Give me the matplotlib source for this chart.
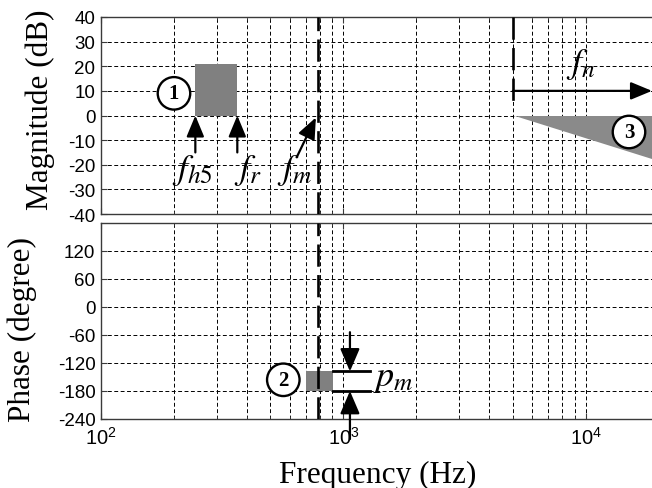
import numpy as np
import matplotlib
matplotlib.use("Agg")
import matplotlib.pyplot as plt
from matplotlib.patches import Rectangle, Polygon

plt.rcParams['font.family'] = ['Liberation Sans', 'DejaVu Sans']
plt.rcParams['lines.scale_dashes'] = False
plt.rcParams['axes.unicode_minus'] = False

# ---------------- data ----------------
x_limits = [100, 18750]
mag_ticks = [-40, -30, -20, -10, 0, 10, 20, 30, 40]
mag_limits = [-40, 40]
phase_ticks = [-240, -180, -120, -60, 0, 60, 120]
phase_limits = [-240, 180]
x_major_ticks = [1e2, 1e3, 1e4]
x_tick_labels = [r'$\mathregular{10^{2}}$', r'$\mathregular{10^{3}}$', r'$\mathregular{10^{4}}$']

f_m = 785        # dashed line through both plots
f_n = 5000       # dashed line in magnitude plot
f_n_line_range = [40, 4]
f_n_arrow_level = 10
f_n_label_pos = (8300, 17.5)

region1_f = [245, 365]       # f_h5 .. f_r
region1_mag = [0, 21]
region2_f = [700, 905]
region2_phase = [-180, -138]
region3_f = [5100, 18750]
region3_mag_end = -17.7

pm_levels = [-138, -180]
pm_line_f = [905, 1290]
pm_arrow_f = 1064

labels_f = [196, 355, 530]
labels_txt = [r'$f_{h5}$', r'$f_{r}$', r'$f_{m}$']
labels_mag = -25.5
arrows_mag_tail = [(245, -15), (365, -15), (645, -16.5)]
arrows_mag_head = [(245, 0), (365, 0), (770, -0.8)]

circle1 = (200, 9)
circle2 = (565, -156)
circle3 = (15070, -6.7)

# ---------------- figure ----------------
fig = plt.figure(figsize=(6.52, 4.89), dpi=100)
W, H = 652, 489
ax1 = fig.add_axes([101 / W, 1 - 215 / H, (W - 101) / W, (215 - 18) / H])
ax2 = fig.add_axes([101 / W, 1 - 420 / H, (W - 101) / W, (420 - 224) / H])

grid_style = dict(color='black', linewidth=0.7, linestyle=(0, (2.8, 1.8)))
for ax in (ax1, ax2):
    ax.set_xscale('log')
    ax.set_xlim(*x_limits)
    ax.grid(True, which='both', axis='x', **grid_style)
    ax.grid(True, which='major', axis='y', **grid_style)
    ax.set_axisbelow(True)
    for s in ('left', 'bottom', 'top'):
        ax.spines[s].set_color('#3a3a3a')
        ax.spines[s].set_linewidth(1.0)
    ax.spines['right'].set_visible(False)
    ax.tick_params(which='both', direction='in', top=True, right=False,
                   color='#3a3a3a')
    ax.tick_params(which='major', length=4)
    ax.tick_params(which='minor', length=2)
    ax.tick_params(axis='y', labelsize=13.5, pad=4)
    ax.tick_params(axis='x', labelsize=14.5, pad=5)

ax1.set_ylim(*mag_limits)
ax1.set_yticks(mag_ticks)
ax1.set_xticks(x_major_ticks)
ax1.set_xticklabels([])
ax1.tick_params(axis='x', which='minor', labelbottom=False)

ax2.set_ylim(*phase_limits)
ax2.set_yticks(phase_ticks)
ax2.set_xticks(x_major_ticks)
ax2.set_xticklabels(x_tick_labels)
ax2.tick_params(axis='x', which='minor', labelbottom=False)

gray = '#808080'
# region 1
ax1.add_patch(Rectangle((region1_f[0], region1_mag[0]), region1_f[1] - region1_f[0],
                        region1_mag[1] - region1_mag[0], facecolor=gray, edgecolor='none', zorder=2))
# region 3 triangle
ax1.add_patch(Polygon([(region3_f[0], 0), (region3_f[1], 0), (region3_f[1], region3_mag_end)],
                      closed=True, facecolor='#8a8a8a', edgecolor='none', zorder=2, clip_on=False))
# region 2
ax2.add_patch(Rectangle((region2_f[0], region2_phase[0]), region2_f[1] - region2_f[0],
                        region2_phase[1] - region2_phase[0], facecolor=gray, edgecolor='none', zorder=2))

thick_dash = dict(color='black', linewidth=1.9, linestyle=(0, (16, 6)), zorder=4)
ax1.plot([f_m, f_m], mag_limits, **thick_dash)
ax2.plot([f_m, f_m], phase_limits, **thick_dash)
ax1.plot([f_n, f_n], f_n_line_range, **thick_dash)

arrow_kw = dict(arrowstyle='-|>,head_length=0.65,head_width=0.27', color='black',
                lw=1.6, shrinkA=0, shrinkB=0, mutation_scale=20)
for tail, head in zip(arrows_mag_tail, arrows_mag_head):
    ax1.annotate('', xy=head, xytext=tail, arrowprops=arrow_kw, zorder=5)
ax1.annotate('', xy=(x_limits[1], f_n_arrow_level), xytext=(f_n, f_n_arrow_level),
             arrowprops=arrow_kw, zorder=5, annotation_clip=False)

math_kw = dict(fontsize=26, math_fontfamily='stix', ha='left', va='baseline', zorder=6)
for xf, t in zip(labels_f, labels_txt):
    ax1.text(xf, labels_mag, t, **math_kw)
ax1.text(f_n_label_pos[0], f_n_label_pos[1], r'$f_{n}$', **math_kw)

circ_kw = dict(fontsize=15, fontweight='bold', family='Liberation Serif', ha='center',
               va='center', zorder=7,
               bbox=dict(boxstyle='circle,pad=0.3', fc='white', ec='black', lw=1.7))
ax1.text(circle1[0], circle1[1], '1', **circ_kw)
ax1.text(circle3[0], circle3[1], '3', **circ_kw)
ax2.text(circle2[0], circle2[1], '2', **circ_kw)

# phase margin markers
for lv in pm_levels:
    ax2.plot(pm_line_f, [lv, lv], color='black', linewidth=2.0, zorder=5)
pm_arrow = dict(arrowstyle='-|>,head_length=0.7,head_width=0.3', color='black',
                lw=1.6, shrinkA=0, shrinkB=0, mutation_scale=20)
ax2.annotate('', xy=(pm_arrow_f, pm_levels[0]), xytext=(pm_arrow_f, -54),
             arrowprops=pm_arrow, zorder=5)
ax2.annotate('', xy=(pm_arrow_f, pm_levels[1]), xytext=(pm_arrow_f, -283),
             arrowprops=pm_arrow, zorder=5, annotation_clip=False)
ax2.text(1320, -168, r'$p_{m}$', **math_kw)

# axis labels
fig.text(40 / W, 1 - 110 / H, 'Magnitude (dB)', family='Liberation Serif', fontsize=22.5,
         rotation=90, ha='center', va='center')
fig.text(22 / W, 1 - 330 / H, 'Phase (degree)', family='Liberation Serif', fontsize=22.5,
         rotation=90, ha='center', va='center')
fig.text(378 / W, 1 - 483 / H, 'Frequency (Hz)', family='Liberation Serif', fontsize=22.5,
         ha='center', va='baseline')

fig.savefig('out.png', dpi=100)
